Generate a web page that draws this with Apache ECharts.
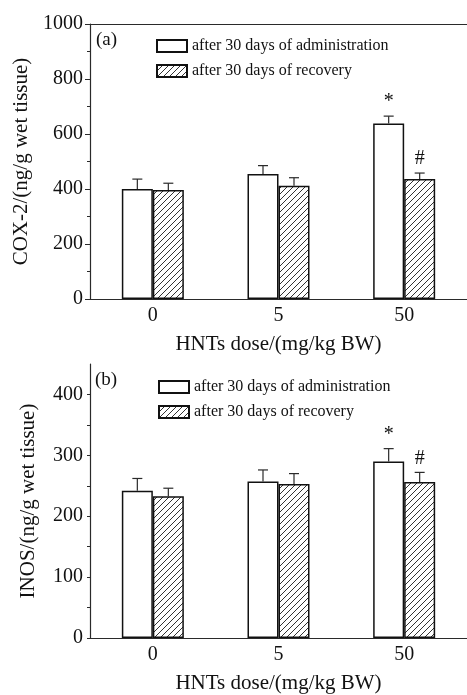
<!DOCTYPE html>
<html><head><meta charset="utf-8">
<script src="https://cdn.jsdelivr.net/npm/echarts@6/dist/echarts.min.js"></script>
<style>html,body{margin:0;padding:0;background:#fff}#c{width:467px;height:695px}</style>
</head><body><div id="c"></div>
<script>
const categories = ['0', '5', '50'];
const seriesNames = ['after 30 days of administration', 'after 30 days of recovery'];
// Panel (a) COX-2
const coxAdmin = [400, 455, 638];
const coxAdminSd = [36, 30, 27];
const coxRecovery = [396, 412, 436];
const coxRecoverySd = [25, 29, 22];
const coxAdminMark = ['', '', '*'];
const coxRecoveryMark = ['', '', '#'];
// Panel (b) iNOS
const inosAdmin = [242, 257, 290];
const inosAdminSd = [20, 19, 21];
const inosRecovery = [233, 253, 256];
const inosRecoverySd = [13, 17, 16];
const inosAdminMark = ['', '', '*'];
const inosRecoveryMark = ['', '', '#'];

const FONT = '"Liberation Serif", "Times New Roman", serif';
const AX = '#2a2a2a';
const BAR_W = 31;

function hatch() {
  const c = document.createElement('canvas');
  c.width = 6; c.height = 6;
  const g = c.getContext('2d');
  g.fillStyle = '#fff'; g.fillRect(0, 0, 6, 6);
  g.strokeStyle = '#333'; g.lineWidth = 1;
  g.beginPath();
  g.moveTo(-1, 7); g.lineTo(7, -1);
  g.moveTo(-4, 4); g.lineTo(4, -4);
  g.moveTo(2, 10); g.lineTo(10, 2);
  g.stroke();
  return c;
}
const hatchPattern = { image: hatch(), repeat: 'repeat' };

function errSeries(idx, means, sds, marks, offset) {
  return {
    type: 'custom', xAxisIndex: idx * 2, yAxisIndex: idx, z: 5, silent: true,
    data: means.map((m, i) => [i, m, m + sds[i]]),
    renderItem: function (params, api) {
      const p0 = api.coord([api.value(0), api.value(1)]);
      const p1 = api.coord([api.value(0), api.value(2)]);
      const x = p0[0] + offset;
      const ch = [
        { type: 'line', shape: { x1: x, y1: p0[1], x2: x, y2: p1[1] }, style: { stroke: AX, lineWidth: 1.2 } },
        { type: 'line', shape: { x1: x - 5, y1: p1[1], x2: x + 5, y2: p1[1] }, style: { stroke: AX, lineWidth: 1.2 } }
      ];
      const mk = marks[params.dataIndex];
      if (mk) {
        ch.push({ type: 'text', style: { text: mk, x: x, y: p1[1] - 4, align: 'center', verticalAlign: 'bottom', font: '20px ' + FONT, fill: '#111' } });
      }
      return { type: 'group', children: ch };
    }
  };
}

function barSeries(idx, name, data, hatched) {
  return {
    type: 'bar', name: name, xAxisIndex: idx * 2, yAxisIndex: idx,
    data: data, barWidth: BAR_W, barGap: '0%',
    itemStyle: { color: hatched ? hatchPattern : '#fff', borderColor: '#111', borderWidth: 1.5 }
  };
}

const grids = [
  { left: 90, top: 24, width: 378, height: 275 },
  { left: 90, top: 364, width: 378, height: 278 }
];

function xAxes(idx, gap) {
  return [{
    type: 'category', gridIndex: idx, data: categories, position: 'bottom',
    axisLine: { lineStyle: { color: AX, width: 1.2 } },
    axisTick: { show: false },
    axisLabel: { color: '#111', fontSize: 20, fontFamily: FONT, margin: 7 },
    name: 'HNTs dose/(mg/kg BW)', nameLocation: 'middle', nameGap: gap,
    nameTextStyle: { color: '#111', fontSize: 21, fontFamily: FONT }
  }, {
    type: 'category', gridIndex: idx, data: categories, position: 'top',
    axisLine: { lineStyle: { color: AX, width: 1.2 } },
    axisTick: { show: false }, axisLabel: { show: false }
  }];
}

const option = {
  backgroundColor: '#fff',
  animation: false,
  grid: grids,
  xAxis: [].concat(xAxes(0, 35), xAxes(1, 35)),
  yAxis: [{
    type: 'value', gridIndex: 0, min: 0, max: 1000, interval: 200,
    axisLine: { show: true, lineStyle: { color: AX, width: 1.2 } },
    axisTick: { show: true, inside: false, length: 5, lineStyle: { color: AX } },
    minorTick: { show: true, splitNumber: 2, length: 3, lineStyle: { color: AX } },
    splitLine: { show: false },
    axisLabel: { color: '#111', fontSize: 20, fontFamily: FONT, margin: 7, formatter: v => String(v) },
    name: 'COX-2/(ng/g wet tissue)', nameLocation: 'middle', nameGap: 54,
    nameTextStyle: { color: '#111', fontSize: 21, fontFamily: FONT }
  }, {
    type: 'value', gridIndex: 1, min: 0, max: 450, interval: 50,
    axisLine: { show: true, lineStyle: { color: AX, width: 1.2 } },
    axisTick: { show: true, inside: false, length: 3, lineStyle: { color: AX } },
    splitLine: { show: false },
    axisLabel: { color: '#111', fontSize: 20, fontFamily: FONT, margin: 7, showMaxLabel: false,
      formatter: v => (v % 100 === 0 ? String(v) : '') },
    name: 'INOS/(ng/g wet tissue)', nameLocation: 'middle', nameGap: 51,
    nameTextStyle: { color: '#111', fontSize: 21, fontFamily: FONT }
  }, {
    type: 'value', gridIndex: 1, min: 0, max: 450, interval: 100,
    axisLine: { show: false },
    axisTick: { show: true, inside: false, length: 5, lineStyle: { color: AX } },
    splitLine: { show: false }, axisLabel: { show: false }
  }],
  legend: [{
    orient: 'vertical', left: 151, top: 33, itemWidth: 30, itemHeight: 12, itemGap: 9,
    icon: 'rect', data: seriesNames, selectedMode: false,
    textStyle: { color: '#111', fontSize: 16, fontFamily: FONT }
  }, {
    orient: 'vertical', left: 153, top: 374, itemWidth: 30, itemHeight: 12, itemGap: 9,
    icon: 'rect', data: seriesNames, selectedMode: false,
    textStyle: { color: '#111', fontSize: 16, fontFamily: FONT }
  }],
  graphic: [
    { type: 'text', left: 96, top: 31, style: { text: '(a)', font: '19px ' + FONT, fill: '#111' } },
    { type: 'text', left: 95, top: 371, style: { text: '(b)', font: '19px ' + FONT, fill: '#111' } }
  ],
  series: [
    barSeries(0, seriesNames[0], coxAdmin, false),
    barSeries(0, seriesNames[1], coxRecovery, true),
    errSeries(0, coxAdmin, coxAdminSd, coxAdminMark, -BAR_W / 2),
    errSeries(0, coxRecovery, coxRecoverySd, coxRecoveryMark, BAR_W / 2),
    barSeries(1, seriesNames[0], inosAdmin, false),
    barSeries(1, seriesNames[1], inosRecovery, true),
    errSeries(1, inosAdmin, inosAdminSd, inosAdminMark, -BAR_W / 2),
    errSeries(1, inosRecovery, inosRecoverySd, inosRecoveryMark, BAR_W / 2),
    { type: 'custom', xAxisIndex: 2, yAxisIndex: 2, data: [], renderItem: () => null, silent: true }
  ]
};
const chart = echarts.init(document.getElementById('c'), null, { renderer: 'canvas' });
chart.setOption(option);
</script>
</body></html>
